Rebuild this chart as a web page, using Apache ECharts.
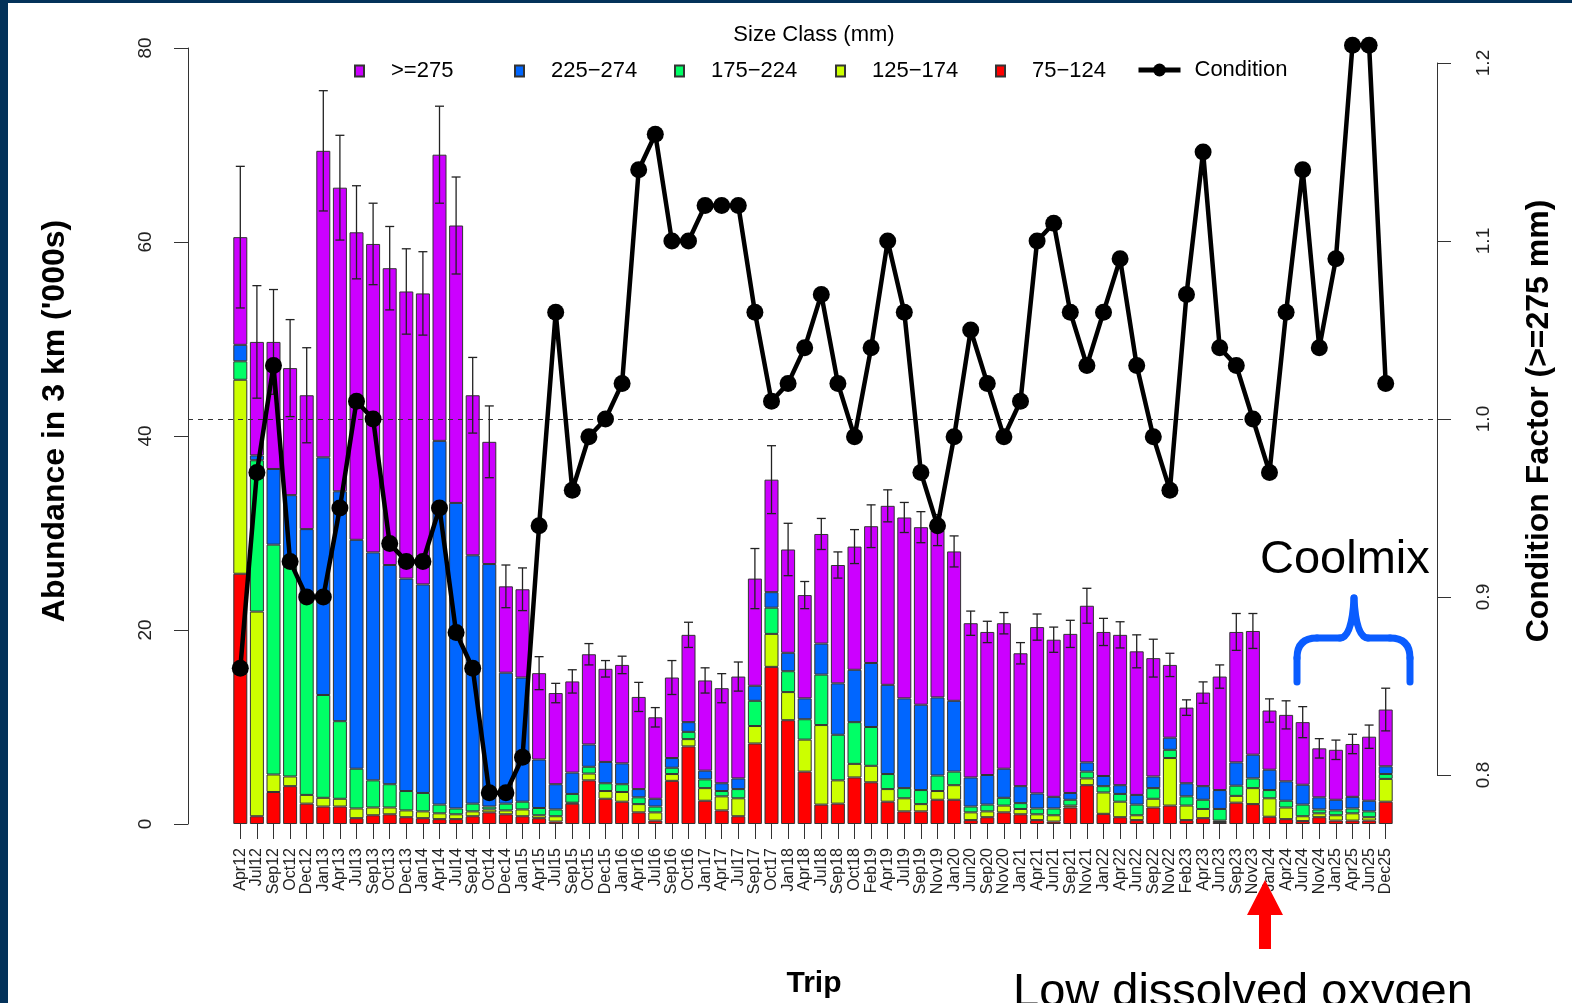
<html>
<head>
    <meta charset="utf-8">
    <title>Abundance and condition by trip</title>
    <script src="https://cdn.jsdelivr.net/npm/echarts@6/dist/echarts.min.js"></script>
    <style>
        html, body { margin: 0; padding: 0; background: #fff; }
        #main { width: 1572px; height: 1003px; }
    </style>
</head>
<body>
    <div id='main'></div>
    <script>
        // trips (x axis)
        var TRIPS = ['Apr12', 'Jul12', 'Sep12', 'Oct12', 'Dec12', 'Jan13', 'Apr13', 'Jul13', 'Sep13', 'Oct13',
            'Dec13', 'Jan14', 'Apr14', 'Jul14', 'Sep14', 'Oct14', 'Dec14', 'Jan15', 'Apr15', 'Jul15',
            'Sep15', 'Oct15', 'Dec15', 'Jan16', 'Apr16', 'Jul16', 'Sep16', 'Oct16', 'Jan17', 'Apr17',
            'Jul17', 'Sep17', 'Oct17', 'Jan18', 'Apr18', 'Jul18', 'Sep18', 'Oct18', 'Feb19', 'Apr19',
            'Jul19', 'Sep19', 'Nov19', 'Jan20', 'Jun20', 'Sep20', 'Nov20', 'Jan21', 'Apr21', 'Jun21',
            'Sep21', 'Nov21', 'Jan22', 'Apr22', 'Jun22', 'Sep22', 'Nov22', 'Feb23', 'Apr23', 'Jun23',
            'Sep23', 'Nov23', 'Jan24', 'Apr24', 'Jun24', 'Nov24', 'Jan25', 'Apr25', 'Jun25', 'Dec25']

        // abundance per size class ('000s), bottom of the stack first
        var S75 = [25.8, 0.8, 3.3, 3.9, 2.1, 1.8, 1.8, 0.6, 0.9, 1.0,
            0.7, 0.6, 0.5, 0.5, 0.8, 1.2, 1.0, 0.8, 0.6, 0.25,
            2.1, 4.5, 2.6, 2.3, 1.2, 0.35, 4.45, 8.0, 2.4, 1.4,
            0.8, 8.3, 16.2, 10.7, 5.4, 2.0, 2.1, 4.8, 4.3, 2.3,
            1.3, 1.3, 2.5, 2.5, 0.4, 0.7, 1.2, 1.0, 0.4, 0.25,
            1.7, 4.0, 1.05, 0.7, 0.4, 1.7, 1.9, 0.4, 0.6, 0.2,
            2.2, 2.05, 0.75, 0.5, 0.3, 0.7, 0.35, 0.35, 0.35, 2.3]
        var S125 = [20.0, 21.1, 1.8, 1.0, 0.9, 0.9, 0.8, 1.0, 0.8, 0.7,
            0.7, 0.7, 0.6, 0.5, 0.5, 0.3, 0.4, 0.7, 0.3, 0.55,
            0.1, 0.7, 0.8, 1.0, 0.85, 0.85, 0.7, 0.75, 1.3, 1.45,
            1.85, 1.8, 3.4, 2.9, 3.3, 8.2, 2.4, 1.4, 1.7, 1.3,
            1.35, 0.75, 0.9, 1.5, 0.8, 0.6, 0.7, 0.55, 0.6, 0.65,
            0.2, 0.7, 2.2, 1.6, 0.5, 0.9, 4.9, 1.5, 0.95, 0.15,
            0.7, 1.65, 1.9, 1.2, 0.5, 0.4, 0.55, 0.75, 0.35, 2.35]
        var S175 = [1.9, 15.6, 23.7, 22.0, 20.3, 10.6, 8.0, 4.1, 2.8, 2.4,
            2.0, 1.9, 0.9, 0.6, 0.8, 0.3, 0.7, 0.8, 0.75, 0.7,
            0.9, 0.7, 0.8, 0.8, 0.7, 0.6, 0.65, 0.75, 0.9, 0.55,
            0.95, 2.6, 2.7, 2.15, 2.1, 5.2, 4.7, 4.3, 4.0, 1.55,
            1.05, 1.45, 1.6, 1.4, 0.6, 0.7, 0.8, 0.6, 0.6, 0.7,
            0.6, 0.7, 0.65, 0.8, 1.1, 1.1, 0.85, 0.95, 0.95, 1.2,
            1.05, 1.0, 0.85, 0.7, 1.2, 0.4, 0.5, 0.5, 0.6, 0.5]
        var S225 = [1.7, 0.5, 7.8, 7.0, 7.1, 24.5, 23.7, 23.6, 23.5, 22.6,
            21.9, 21.5, 37.5, 31.5, 25.6, 25.0, 13.5, 12.8, 5.0, 2.6,
            2.2, 2.3, 2.2, 2.15, 0.85, 0.8, 1.0, 1.0, 0.9, 0.8,
            1.1, 1.55, 1.6, 1.9, 2.15, 3.2, 5.3, 5.4, 6.6, 9.2,
            9.25, 8.8, 8.05, 7.3, 3.0, 3.05, 3.0, 1.75, 1.55, 1.2,
            0.7, 0.95, 1.05, 0.9, 1.0, 1.2, 1.25, 1.35, 1.4, 1.95,
            2.4, 2.45, 2.1, 2.0, 2.05, 1.25, 1.1, 1.2, 1.1, 0.8]
        var S275 = [11.1, 11.7, 13.1, 13.1, 13.8, 31.6, 31.3, 31.7, 31.8, 30.6,
            29.6, 30.0, 29.5, 28.6, 16.5, 12.6, 8.9, 9.1, 8.9, 9.4,
            9.4, 9.3, 9.6, 10.15, 9.5, 8.4, 8.3, 9.0, 9.3, 9.8,
            10.5, 11.05, 11.6, 10.65, 10.65, 11.3, 12.2, 12.7, 14.1, 18.45,
            18.65, 18.3, 17.25, 15.4, 15.9, 14.75, 15.0, 13.7, 17.15, 16.2,
            16.4, 16.15, 14.85, 15.5, 14.8, 12.2, 7.5, 7.8, 9.65, 11.7,
            13.45, 12.75, 6.1, 6.85, 6.45, 5.05, 5.15, 5.45, 6.6, 5.85]
        // error bar half length on the total
        var ERR = [7.3, 5.8, 5.4, 5.0, 4.9, 6.2, 5.4, 4.8, 4.2, 4.3,
            4.4, 4.3, 5.0, 5.0, 3.9, 3.7, 2.2, 2.2, 1.7, 1.0,
            1.2, 1.1, 0.85, 0.9, 1.5, 1.0, 1.75, 1.3, 1.3, 1.5,
            1.5, 3.1, 3.5, 2.7, 1.4, 1.6, 1.35, 1.75, 2.2, 1.65,
            1.55, 1.6, 1.6, 1.6, 1.25, 1.1, 1.1, 1.1, 1.35, 1.3,
            1.4, 1.8, 1.4, 1.35, 1.7, 1.95, 1.2, 0.8, 1.1, 1.2,
            1.9, 1.8, 1.2, 1.45, 1.6, 1.0, 1.0, 1.0, 1.2, 2.2]
        // condition factor (>=275 mm)
        var COND = [0.86, 0.97, 1.03, 0.92, 0.90, 0.90, 0.95, 1.01, 1.00, 0.93,
            0.92, 0.92, 0.95, 0.88, 0.86, 0.79, 0.79, 0.81, 0.94, 1.06,
            0.96, 0.99, 1.00, 1.02, 1.14, 1.16, 1.10, 1.10, 1.12, 1.12,
            1.12, 1.06, 1.01, 1.02, 1.04, 1.07, 1.02, 0.99, 1.04, 1.10,
            1.06, 0.97, 0.94, 0.99, 1.05, 1.02, 0.99, 1.01, 1.10, 1.11,
            1.06, 1.03, 1.06, 1.09, 1.03, 0.99, 0.96, 1.07, 1.15, 1.04,
            1.03, 1.00, 0.97, 1.06, 1.14, 1.04, 1.09, 1.21, 1.21, 1.02]

        var LEFT_TICKS = [0, 20, 40, 60, 80]
        var RIGHT_TICKS = [0.8, 0.9, 1.0, 1.1, 1.2]

        var CLASSES = [
            { name: '75−124', data: S75, color: '#FF0000' },
            { name: '125−174', data: S125, color: '#CCFF00' },
            { name: '175−224', data: S175, color: '#00FF66' },
            { name: '225−274', data: S225, color: '#0066FF' },
            { name: '>=275', data: S275, color: '#CC00FF' },
        ]

        var FONT = '"Liberation Sans", Arial, Helvetica, sans-serif'

        // totals for the error bars
        var errData = TRIPS.map((t, i) => {
            var tot = 0
            CLASSES.forEach(c => tot += c.data[i])
            return [i, tot, ERR[i]]
        })

        function renderErr(params, api) {
            var i = api.value(0), tot = api.value(1), e = api.value(2)
            var hi = api.coord([i, tot + e])
            var lo = api.coord([i, tot - e])
            var w = 4.5
            var st = { stroke: '#222', lineWidth: 1.3 }
            return {
                type: 'group',
                children: [
                    { type: 'line', shape: { x1: hi[0], y1: hi[1], x2: lo[0], y2: lo[1] }, style: st },
                    { type: 'line', shape: { x1: hi[0] - w, y1: hi[1], x2: hi[0] + w, y2: hi[1] }, style: st },
                    { type: 'line', shape: { x1: lo[0] - w, y1: lo[1], x2: lo[0] + w, y2: lo[1] }, style: st },
                ]
            }
        }

        var series = CLASSES.map(c => ({
            name: c.name,
            type: 'bar',
            stack: 'size',
            xAxisIndex: 0,
            yAxisIndex: 0,
            barWidth: 14,
            data: c.data,
            itemStyle: { color: c.color, borderColor: '#333', borderWidth: 1 },
        }))
        series.push({
            type: 'custom',
            xAxisIndex: 0,
            yAxisIndex: 0,
            renderItem: renderErr,
            encode: { x: 0, y: 1 },
            data: errData,
            z: 5,
        })
        series.push({
            name: 'Condition',
            type: 'line',
            xAxisIndex: 1,
            yAxisIndex: 1,
            data: COND,
            clip: false,
            showAllSymbol: true,
            symbol: 'circle',
            symbolSize: 17,
            lineStyle: { color: '#000', width: 4.5 },
            itemStyle: { color: '#000' },
            z: 10,
        })
        // dashed reference at condition 1.0
        series.push({
            type: 'line',
            xAxisIndex: 2,
            yAxisIndex: 2,
            data: [],
            markLine: {
                silent: true,
                symbol: 'none',
                label: { show: false },
                lineStyle: { color: '#333', width: 1, type: [5, 5] },
                data: [{ yAxis: 1.0 }],
            },
        })

        var legendBase = {
            orient: 'horizontal',
            top: 55,
            icon: 'rect',
            itemWidth: 9,
            itemHeight: 11,
            selectedMode: false,
            textStyle: { fontSize: 22, fontFamily: FONT, color: '#000', padding: [0, 0, 0, 22] },
        }
        var legendLeft = [349, 509, 669, 830, 990]
        var legends = ['>=275', '225−274', '175−224', '125−174', '75−124'].map((n, i) =>
            Object.assign({}, legendBase, { data: [n], left: legendLeft[i] }))
        legends.push({
            data: ['Condition'],
            left: 1131,
            top: 54,
            itemWidth: 42,
            itemHeight: 16,
            selectedMode: false,
            itemStyle: { color: '#000' },
            lineStyle: { width: 5, color: '#000' },
            textStyle: { fontSize: 22, fontFamily: FONT, color: '#000', padding: [0, 0, 0, 9] },
        })

        // curly brace over the Coolmix trips, built from lines and curves
        var BS = { stroke: '#0A5CFF', lineWidth: 7, lineCap: 'round' }
        var brace = {
            type: 'group', silent: true,
            children: [
                { type: 'line', shape: { x1: 1297, y1: 682, x2: 1297, y2: 658 }, style: BS },
                { type: 'bezierCurve', shape: { x1: 1297, y1: 658, cpx1: 1297, cpy1: 638, x2: 1317, y2: 638 }, style: BS },
                { type: 'line', shape: { x1: 1317, y1: 638, x2: 1340, y2: 638 }, style: BS },
                { type: 'bezierCurve', shape: { x1: 1340, y1: 638, cpx1: 1352, cpy1: 638, x2: 1354, y2: 598 }, style: BS },
                { type: 'bezierCurve', shape: { x1: 1354, y1: 598, cpx1: 1356, cpy1: 638, x2: 1368, y2: 638 }, style: BS },
                { type: 'line', shape: { x1: 1368, y1: 638, x2: 1390, y2: 638 }, style: BS },
                { type: 'bezierCurve', shape: { x1: 1390, y1: 638, cpx1: 1410, cpy1: 638, x2: 1410, y2: 658 }, style: BS },
                { type: 'line', shape: { x1: 1410, y1: 658, x2: 1410, y2: 682 }, style: BS },
            ]
        }

        var options = {
            animation: false,
            backgroundColor: '#fff',
            textStyle: { fontFamily: FONT },
            legend: legends,
            grid: [
                { left: 232, right: 178, top: 48, bottom: 179 },
                { left: 232, right: 178, top: 63, bottom: 228 },
                { left: 188, right: 135, top: 63, bottom: 228 },
            ],
            xAxis: [
                {
                    gridIndex: 0, type: 'category', data: TRIPS,
                    axisLine: { show: false },
                    axisTick: { show: true, alignWithLabel: true, length: 15, lineStyle: { color: '#333' } },
                    axisLabel: { interval: 0, rotate: 90, fontSize: 16, margin: 24, color: '#222', fontFamily: FONT },
                    splitLine: { show: false },
                },
                { gridIndex: 1, type: 'category', data: TRIPS, show: false },
                { gridIndex: 2, type: 'value', min: 0, max: 1, show: false },
            ],
            yAxis: [
                {
                    gridIndex: 0, type: 'value', position: 'left', offset: 44,
                    min: LEFT_TICKS[0], max: LEFT_TICKS[LEFT_TICKS.length - 1], interval: 20,
                    axisLine: { show: true, onZero: false, lineStyle: { color: '#333', width: 1 } },
                    axisTick: { show: true, length: 14, lineStyle: { color: '#333' } },
                    axisLabel: { rotate: 90, fontSize: 19, margin: 33, color: '#222', fontFamily: FONT },
                    splitLine: { show: false },
                },
                { gridIndex: 1, type: 'value', min: 0.8, max: 1.2, show: false },
                {
                    gridIndex: 2, type: 'value', position: 'right',
                    min: RIGHT_TICKS[0], max: RIGHT_TICKS[RIGHT_TICKS.length - 1], interval: 0.1,
                    axisLine: { show: true, onZero: false, lineStyle: { color: '#333', width: 1 } },
                    axisTick: { show: true, length: 14, lineStyle: { color: '#333' } },
                    axisLabel: {
                        rotate: 90, fontSize: 19, margin: 37, color: '#222', fontFamily: FONT,
                        formatter: v => v.toFixed(1),
                    },
                    splitLine: { show: false },
                },
            ],
            series: series,
            graphic: [
                // frame
                { type: 'rect', shape: { x: 0, y: 0, width: 8, height: 1003 }, style: { fill: '#03325A' }, silent: true },
                { type: 'rect', shape: { x: 0, y: 0, width: 1572, height: 3 }, style: { fill: '#03325A' }, silent: true },
                // titles
                {
                    type: 'text', x: 814, y: 35,
                    style: { text: 'Size Class (mm)', font: '22px ' + FONT, fill: '#000', align: 'center', verticalAlign: 'middle' }
                },
                {
                    type: 'text', x: 55, y: 421, rotation: Math.PI / 2,
                    style: { text: "Abundance in 3 km ('000s)", font: 'bold 32px ' + FONT, fill: '#000', align: 'center', verticalAlign: 'middle' }
                },
                {
                    type: 'text', x: 1539, y: 421, rotation: Math.PI / 2,
                    style: { text: 'Condition Factor (>=275 mm)', font: 'bold 32px ' + FONT, fill: '#000', align: 'center', verticalAlign: 'middle' }
                },
                {
                    type: 'text', x: 814, y: 984,
                    style: { text: 'Trip', font: 'bold 30px ' + FONT, fill: '#000', align: 'center', verticalAlign: 'middle' }
                },
                // annotations
                {
                    type: 'text', x: 1260, y: 560,
                    style: { text: 'Coolmix', font: '47px ' + FONT, fill: '#000', align: 'left', verticalAlign: 'middle' }
                },
                brace,
                {
                    type: 'polygon', silent: true, z: 20,
                    shape: { points: [[1265, 880], [1283, 915], [1271, 915], [1271, 949], [1259, 949], [1259, 915], [1247, 915]] },
                    style: { fill: '#FF0000' },
                },
                {
                    type: 'text', x: 1013, y: 970,
                    style: { text: 'Low dissolved oxygen', font: '47px ' + FONT, fill: '#000', align: 'left', verticalAlign: 'top' }
                },
            ],
        }

        var chart = echarts.init(document.getElementById('main'))
        chart.setOption(options)
    </script>
</body>
</html>
